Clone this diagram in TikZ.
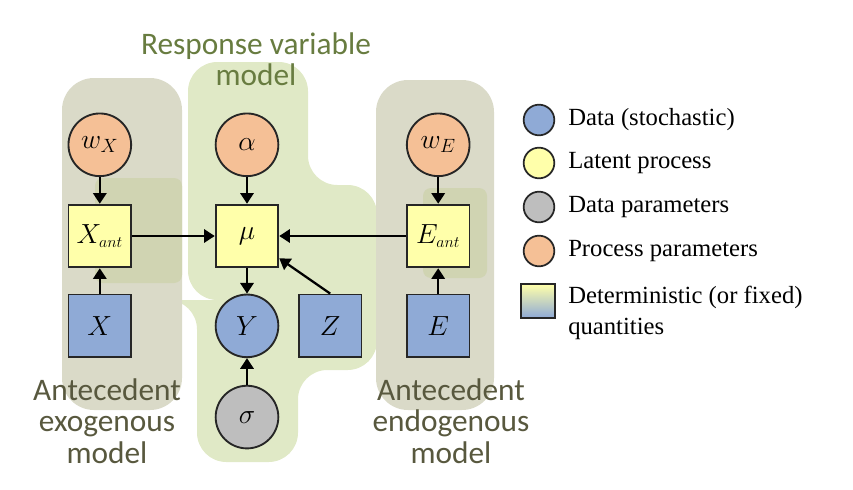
\documentclass[tikz,border=0pt]{standalone}
\usepackage{fontspec}
\setmainfont{Liberation Serif}
\newfontfamily\labelfont{Carlito}
\usepackage{tikz}
\usetikzlibrary{arrows.meta,positioning,shapes}

\begin{document}
\begin{tikzpicture}[x=0.75pt,y=-0.75pt]
    \definecolor{myblue}{RGB}{143,170,214}
    \definecolor{myyellow}{RGB}{255,255,170}
    \definecolor{mygray}{RGB}{190,190,190}
    \definecolor{myorange}{RGB}{245,192,150}
    \definecolor{blobgray}{RGB}{218,218,200}
    \definecolor{blobgreen}{RGB}{224,233,198}
    \definecolor{blobdark}{RGB}{208,212,178}
    \definecolor{greentext}{RGB}{104,124,64}
    \definecolor{olivetext}{RGB}{88,88,62}

    \tikzstyle{circ}=[circle,draw=black!85,line width=1.4pt,minimum size=47pt,inner sep=0pt]  % 随机节点
    \tikzstyle{sq}=[rectangle,draw=black!85,line width=1.4pt,minimum size=47pt,inner sep=0pt]  % 确定节点
    \tikzstyle{arr}=[line width=1.7pt,-{Triangle[length=8pt,width=10pt]}]  % 箭头
    \tikzstyle{model}=[font=\labelfont\fontsize{23.5pt}{23.5pt}\selectfont,align=center]
    \tikzstyle{leg}=[circle,draw=black!85,line width=1.3pt,minimum size=23pt,inner sep=0pt]
    \tikzstyle{legtext}=[right,font=\fontsize{18.5pt}{23pt}\selectfont,align=left,inner sep=0pt]

    \useasboundingbox (0,0) rectangle (853,489);

    % 背景区域
    \fill[blobgreen,rounded corners=22] (188,62) -- (308,62) -- (308,185) -- (377,185) -- (377,370)
        -- (298,370) -- (298,462) -- (197,462) -- (197,300) -- (188,300) -- cycle;
    \fill[blobgray,rounded corners=24] (62,78) rectangle (182,410);
    \fill[blobgray,rounded corners=24] (376,80) rectangle (494,410);
    \fill[blobdark,rounded corners=6] (95,178) -- (182,178) -- (182,283) -- (95,283) -- cycle;
    \fill[blobdark,rounded corners=6] (423,188) -- (487,188) -- (487,278) -- (423,278) -- cycle;

    % 模型说明
    \node[model,text=greentext](resp) at (256,59){Response variable\\model};
    \node[model,text=olivetext](exo) at (107,421){Antecedent\\exogenous\\model};
    \node[model,text=olivetext](endo) at (451,421){Antecedent\\endogenous\\model};

    % 节点
    \node[sq,fill=myyellow](mu) at (247,236){\huge$\mu$};
    \node[sq,fill=myyellow,left=62pt of mu](xant){\huge$X_{\scriptscriptstyle ant}$};
    \node[sq,fill=myyellow,right=95pt of mu](eant){\huge$E_{\scriptscriptstyle ant}$};
    \node[circ,fill=myorange,above=20pt of xant](wx){\huge$w_X$};
    \node[circ,fill=myorange,above=20pt of mu](alpha){\huge$\alpha$};
    \node[circ,fill=myorange,above=20pt of eant](we){\huge$w_E$};
    \node[sq,fill=myblue,below=19pt of xant](x){\huge$X$};
    \node[sq,fill=myblue,below=19pt of eant](e){\huge$E$};
    \node[circ,fill=myblue,below=19pt of mu](y){\huge$Y$};
    \node[sq,fill=myblue,right=14pt of y](z){\huge$Z$};
    \node[circ,fill=mygray,below=20pt of y](sigma){\huge$\sigma$};

    % 连线
    \draw[arr](wx)--(xant);
    \draw[arr](alpha)--(mu);
    \draw[arr](we)--(eant);
    \draw[arr](x)--(xant);
    \draw[arr](e)--(eant);
    \draw[arr](xant)--(mu);
    \draw[arr](eant)--(mu);
    \draw[arr](mu)--(y);
    \draw[arr](sigma)--(y);
    \draw[arr](z.north)--(mu);

    % 图例
    \node[leg,fill=myblue](l1) at (539,120){};
    \node[leg,fill=myyellow](l2) at (539,163){};
    \node[leg,fill=mygray](l3) at (539,207){};
    \node[leg,fill=myorange](l4) at (539,251){};
    \node[rectangle,draw=black!85,line width=1.3pt,minimum size=25pt,inner sep=0pt,
        top color=myyellow,bottom color=myblue](l5) at (538,301){};
    \node[legtext](t1) at (568,120){Data (stochastic)};
    \node[legtext](t2) at (568,163){Latent process};
    \node[legtext](t3) at (568,207){Data parameters};
    \node[legtext](t4) at (568,251){Process parameters};
    \node[legtext,anchor=north west](t5) at (568,286){Deterministic (or fixed)\\quantities};
\end{tikzpicture}
\end{document}
